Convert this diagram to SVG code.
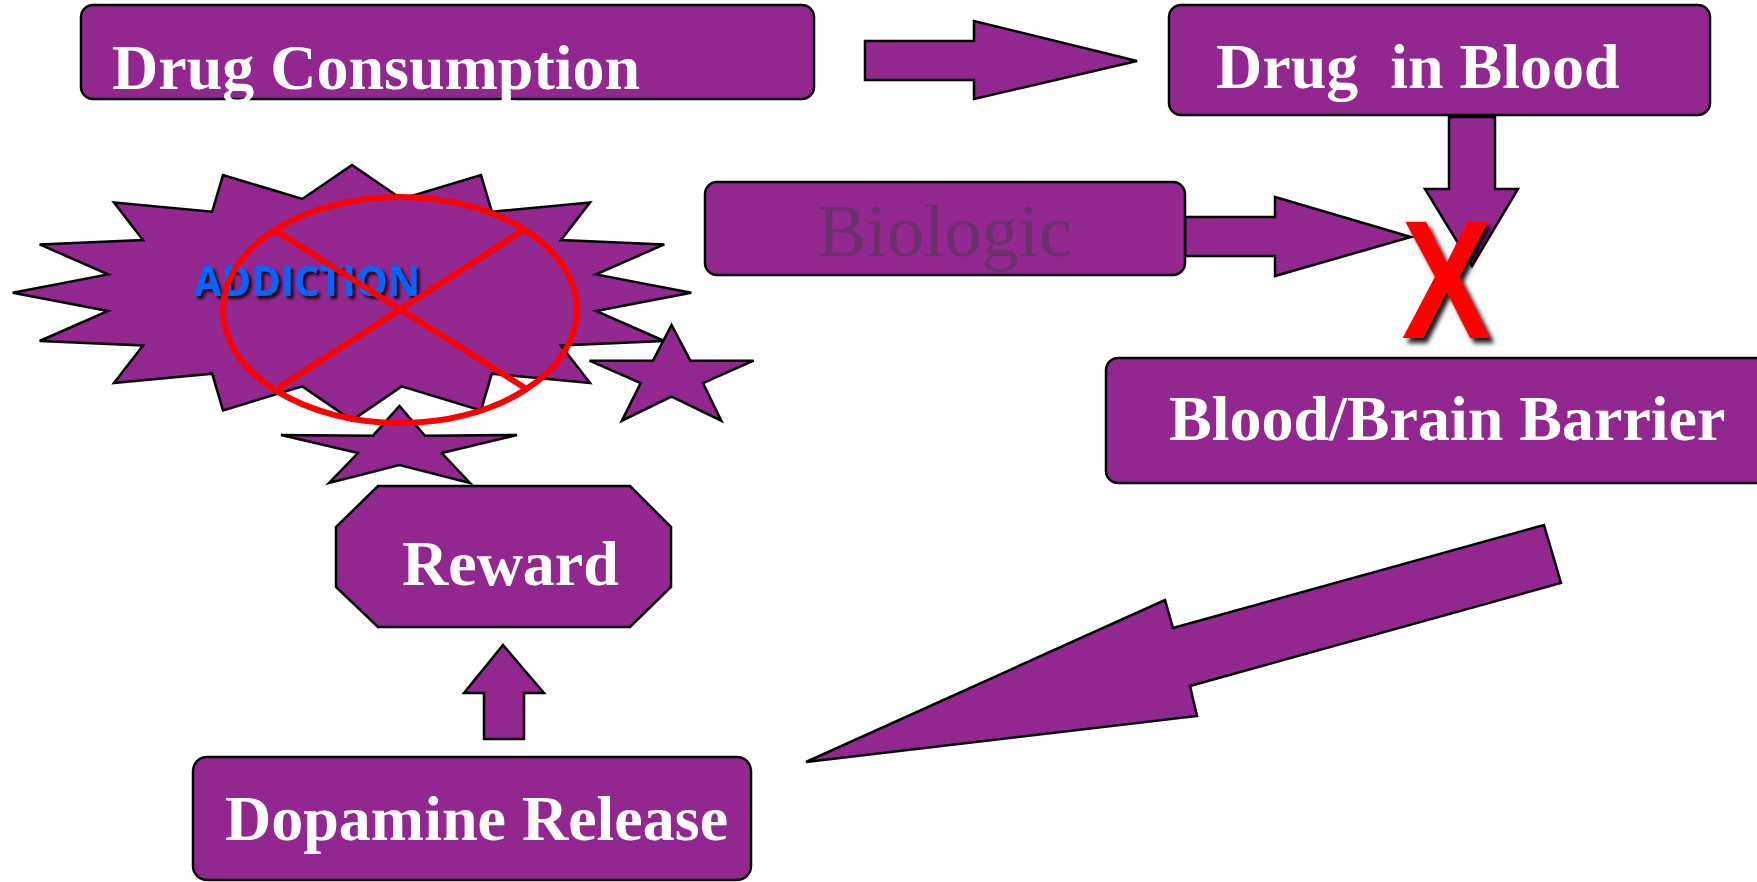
<svg xmlns="http://www.w3.org/2000/svg" width="1757" height="882" viewBox="0 0 1757 882">
  <defs>
    <style>
      .box { fill: #92278F; stroke: #000; stroke-width: 2.5; }
      .shape { fill: #92278F; stroke: #000; stroke-width: 2.5; stroke-linejoin: miter; }
      .arrow { fill: #92278F; stroke: #000; stroke-width: 2.5; stroke-linejoin: miter; }
      .label { fill: #fff; font-family: "Liberation Serif", "Times New Roman", serif; font-weight: bold; font-size: 64px; white-space: pre; }
      .faint { fill: #6B2F6E; font-family: "Liberation Serif", "Times New Roman", serif; font-size: 74px; }
      .cross { fill: none; stroke: #FF0000; stroke-width: 6; }
    </style>
    <filter id="shadow" x="-20%" y="-20%" width="150%" height="150%">
      <feDropShadow dx="3" dy="3" stdDeviation="1.5" flood-color="#000" flood-opacity="0.85"/>
    </filter>
    <filter id="shadowX" x="-30%" y="-30%" width="170%" height="170%">
      <feDropShadow dx="5" dy="5" stdDeviation="2.5" flood-color="#000" flood-opacity="0.9"/>
    </filter>
  </defs>
  <rect width="1757" height="882" fill="#fff"/>

  <!-- connectors: block arrows -->
  <g id="connectors">
    <polygon class="arrow" points="865,41 974,41 974,21 1137,61 974,99 974,80 865,80"/>
    <polygon class="arrow" points="1449,117 1495,117 1495,189 1518,189 1472,266 1425,189 1449,189"/>
    <polygon class="arrow" points="1185,217 1275,217 1275,197 1411,237 1275,276 1275,256 1185,256"/>
    <polygon class="arrow" points="1544,525 1561,583 1190,686 1197,716 806,762 1165,600 1173,628"/>
    <polygon class="arrow" points="503,645 544,693 524,693 524,739 484,739 484,693 464,693"/>
  </g>

  <g id="drug-consumption">
    <rect class="box" x="81" y="5" width="733" height="94" rx="12"/>
    <text class="label" x="112" y="88.5">Drug Consumption</text>
  </g>

  <g id="drug-in-blood">
    <rect class="box" x="1169" y="5" width="541" height="110" rx="12"/>
    <text class="label" x="1216" y="88" xml:space="preserve">Drug  in Blood</text>
  </g>

  <g id="biologic">
    <rect class="box" x="705" y="182" width="480" height="93" rx="12"/>
    <text class="faint" x="817" y="256">Biologic</text>
  </g>

  <g id="blood-brain-barrier">
    <rect class="box" x="1106" y="358" width="690" height="125" rx="12"/>
    <text class="label" x="1169" y="440">Blood/Brain Barrier</text>
  </g>

  <g id="dopamine-release">
    <rect class="box" x="193" y="757" width="558" height="123" rx="14"/>
    <text class="label" x="225" y="840">Dopamine Release</text>
  </g>

  <g id="reward">
    <polygon class="shape" points="378,486 630,486 671,527 671,587 630,627 378,627 336,587 336,527"/>
    <text class="label" x="402" y="585">Reward</text>
  </g>

  <g id="addiction">
    <polygon class="shape" points="352,165 401.7,199 481,175 491.8,211.7 590,202.4 561,240 664.3,244.4 596,274.4 691.3,292.7 596,311 664.3,341 561,345.4 590,383 491.8,373.7 481,410.4 401.7,386.4 352,420.4 302.3,386.4 223,410.4 212.2,373.7 114,383 143,345.4 39.7,341 108,311 12.7,292.7 108,274.4 39.7,244.4 143,240 114,202.4 212.2,211.7 223,175 302.3,199"/>
    <polygon class="shape" points="671.6,325 690.4,360.7 753.6,360.7 703,383 721.3,420.7 671.6,396.7 621.8,420.7 640.7,383 589.5,360.7 653,360.7"/>
    <polygon class="shape" points="399.5,406 425,435.7 517,435 441.7,453 470,483 399.5,465 329,483 358,453 281,435 373,435.7"/>
    <text x="194" y="296" textLength="226" lengthAdjust="spacingAndGlyphs" filter="url(#shadow)" fill="#0066FF" font-family="'Open Sans', 'DejaVu Sans', sans-serif" font-weight="bold" font-size="42">ADDICTION</text>
    <ellipse class="cross" cx="400" cy="310" rx="177" ry="113"/>
    <line class="cross" x1="276" y1="231" x2="525" y2="388"/>
    <line class="cross" x1="522" y1="231" x2="278" y2="388"/>
  </g>

  <!-- red cross blocking the passage -->
  <g id="blocked">
    <text transform="translate(1446.5,338) scale(0.8,1)" text-anchor="middle" filter="url(#shadowX)" fill="#FF0000" font-family="'Liberation Sans', Arial, sans-serif" font-weight="bold" font-size="169">X</text>
  </g>
</svg>
